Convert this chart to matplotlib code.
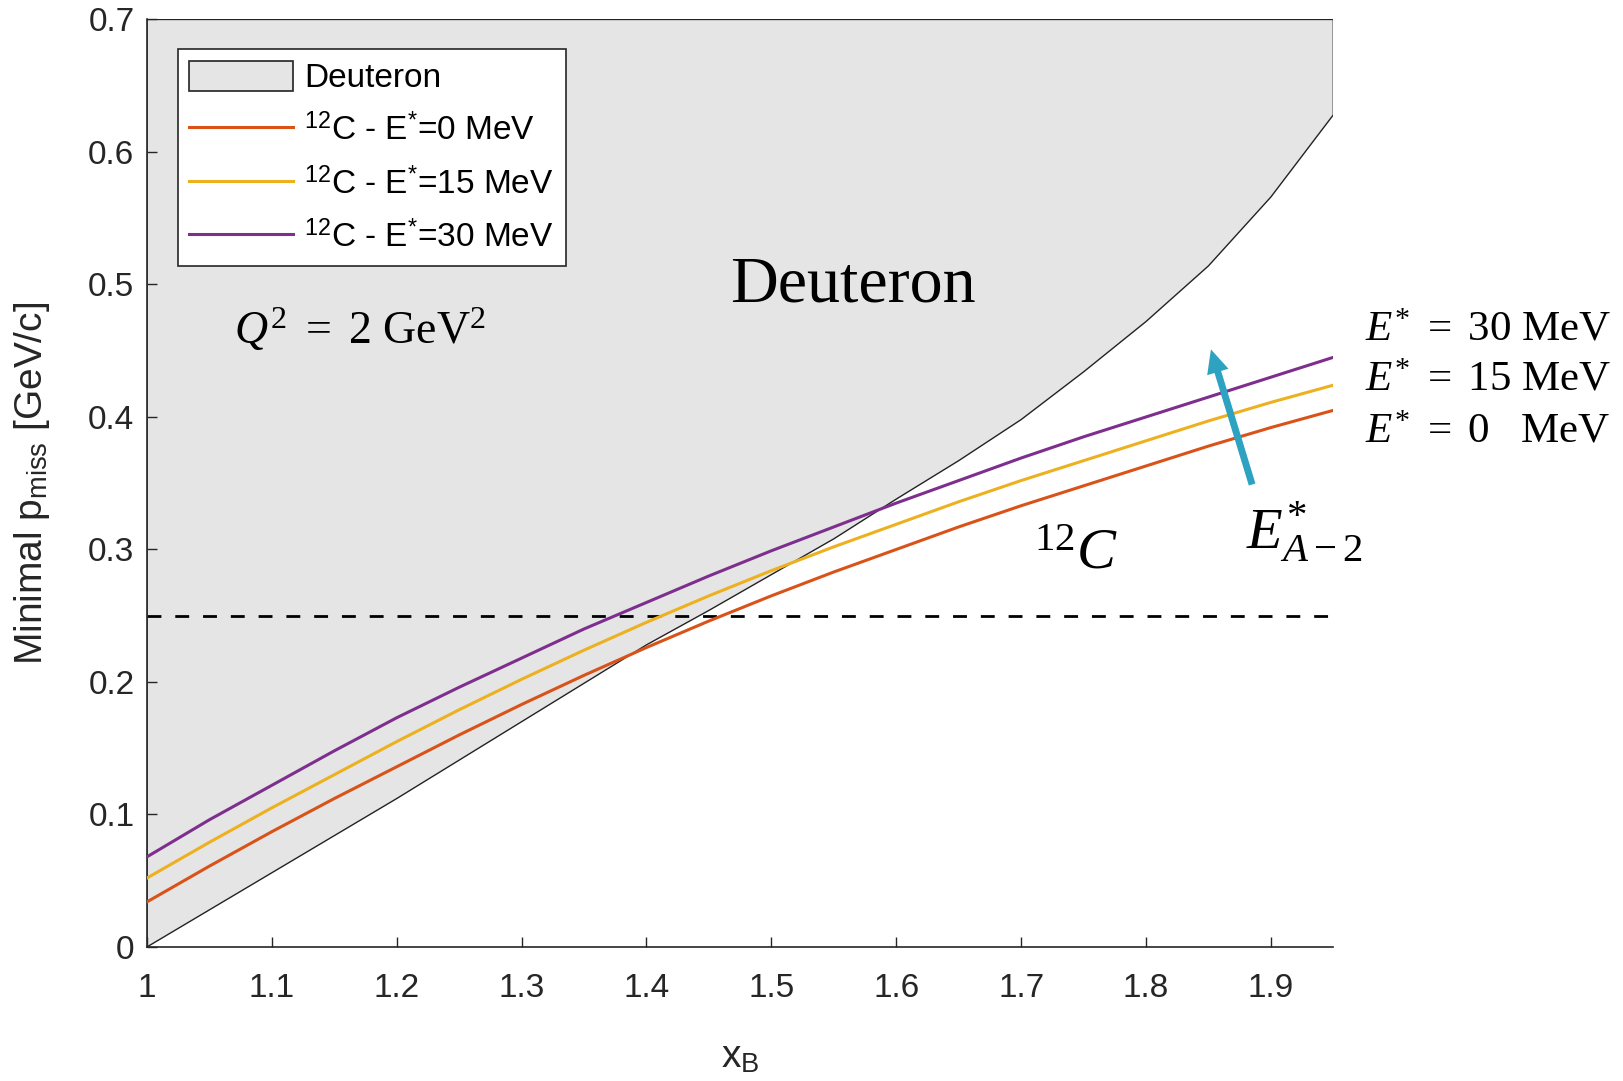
import numpy as np
import matplotlib
matplotlib.use("Agg")
import matplotlib.pyplot as plt
from matplotlib.patches import Polygon, Patch
from matplotlib.lines import Line2D

plt.rcParams["font.family"] = ["Liberation Sans", "DejaVu Sans"]
plt.rcParams["mathtext.fontset"] = "custom"
plt.rcParams["mathtext.rm"] = "Liberation Serif"
plt.rcParams["mathtext.it"] = "Liberation Serif:italic"
plt.rcParams["mathtext.bf"] = "Liberation Serif:bold"
plt.rcParams["mathtext.sf"] = "Liberation Sans"

# data
x_b = [1.00, 1.05, 1.10, 1.15, 1.20, 1.25, 1.30, 1.35, 1.40, 1.45,
       1.50, 1.55, 1.60, 1.65, 1.70, 1.75, 1.80, 1.85, 1.90, 1.95]
deuteron = [0.000, 0.028, 0.056, 0.084, 0.112, 0.141, 0.170, 0.199, 0.228, 0.254,
            0.281, 0.308, 0.338, 0.367, 0.398, 0.434, 0.472, 0.514, 0.566, 0.628]
c12_e0 = [0.034, 0.061, 0.087, 0.112, 0.136, 0.160, 0.183, 0.205, 0.226, 0.246,
          0.265, 0.283, 0.300, 0.317, 0.333, 0.348, 0.363, 0.378, 0.392, 0.405]
c12_e15 = [0.052, 0.079, 0.105, 0.130, 0.155, 0.179, 0.202, 0.224, 0.245, 0.265,
           0.284, 0.302, 0.319, 0.336, 0.352, 0.367, 0.382, 0.397, 0.411, 0.424]
c12_e30 = [0.068, 0.096, 0.122, 0.148, 0.173, 0.196, 0.218, 0.240, 0.260, 0.280,
           0.299, 0.317, 0.335, 0.352, 0.369, 0.385, 0.400, 0.415, 0.430, 0.445]
p_cut = 0.25
y_top = 0.7

x_ticks = [1.0, 1.1, 1.2, 1.3, 1.4, 1.5, 1.6, 1.7, 1.8, 1.9]
x_tick_labels = ["1", "1.1", "1.2", "1.3", "1.4", "1.5", "1.6", "1.7", "1.8", "1.9"]
y_ticks = [0, 0.1, 0.2, 0.3, 0.4, 0.5, 0.6, 0.7]
y_tick_labels = ["0", "0.1", "0.2", "0.3", "0.4", "0.5", "0.6", "0.7"]

series = [
    (c12_e0, "#D95319", r"$^{\mathsf{12}}$C - E$^{\mathsf{*}}$=0 MeV"),
    (c12_e15, "#EDB120", r"$^{\mathsf{12}}$C - E$^{\mathsf{*}}$=15 MeV"),
    (c12_e30, "#7E2F8E", r"$^{\mathsf{12}}$C - E$^{\mathsf{*}}$=30 MeV"),
]

fig = plt.figure(figsize=(16.24, 10.81), dpi=100)
ax = fig.add_axes([0.0905, 0.124, 0.7305, 0.858])

# deuteron region: above the kinematic curve
verts = list(zip(x_b, deuteron)) + [(x_b[-1], y_top), (x_b[0], y_top)]
ax.add_patch(Polygon(verts, closed=True, facecolor="#E5E5E5",
                     edgecolor="#222222", linewidth=1.0, zorder=1))

for ys, col, lab in series:
    ax.plot(x_b, ys, color=col, linewidth=2.2, zorder=3)

ax.axhline(p_cut, color="black", linewidth=2, dashes=(5, 5), zorder=2)

ax.set_xlim(1, 1.95)
ax.set_ylim(0, 0.7)
ax.set_xticks(x_ticks)
ax.set_xticklabels(x_tick_labels)
ax.set_yticks(y_ticks)
ax.set_yticklabels(y_tick_labels)
ax.tick_params(direction="in", length=7, width=1, colors="#262626", labelsize=24)
ax.tick_params(axis="x", pad=19)
ax.tick_params(axis="y", pad=9)
for s in ["top", "right"]:
    ax.spines[s].set_visible(False)
for s in ["left", "bottom"]:
    ax.spines[s].set_color("#262626")
    ax.spines[s].set_linewidth(1.2)

ax.set_xlabel(r"x$_{\mathsf{B}}$", fontsize=28, color="#262626", labelpad=25)
ax.set_ylabel(r"Minimal p$_{\mathsf{miss}}$ [GeV/c]", fontsize=28, color="#262626",
              labelpad=26)

# legend
handles = [Patch(facecolor="#E5E5E5", edgecolor="#222222", linewidth=1.2)]
handles += [Line2D([0], [0], color=c, linewidth=2.2) for _, c, _ in series]
labels = ["Deuteron"] + [lab for _, _, lab in series]
leg = ax.legend(handles, labels, loc="upper left", bbox_to_anchor=(0.026, 0.968),
                fontsize=24, handlelength=3.1, handleheight=1.0, labelspacing=0.6,
                borderpad=0.35, handletextpad=0.35, fancybox=False, framealpha=1,
                edgecolor="#262626", borderaxespad=0)
leg.get_frame().set_linewidth(1.2)

# annotations
ax.text(1.565, 0.487, "Deuteron", family="Liberation Serif", fontsize=47.5,
        ha="center", va="baseline")
ax.text(1.07, 0.455, r"$Q^2\ =\ 2\ \mathrm{GeV}^2$", fontsize=33,
        ha="left", va="baseline")
ax.text(1.71, 0.286, r"$^{12}C$", fontsize=42, ha="left", va="baseline")
ax.text(1.88, 0.30, r"$E^{*}_{A-2}$", fontsize=42, ha="left", va="baseline")

ax.annotate("", xy=(1.852, 0.451), xytext=(1.885, 0.349),
            arrowprops=dict(facecolor="#2EA3C1", edgecolor="none", width=5,
                            headwidth=16, headlength=17, shrink=0))

e_labels = [r"$E^{*}\ =\ 30\ \mathrm{MeV}$", r"$E^{*}\ =\ 15\ \mathrm{MeV}$",
            r"$E^{*}\ =\ 0\quad\mathrm{MeV}$"]
e_y = [0.458, 0.420, 0.381]
for lab, yy in zip(e_labels, e_y):
    ax.text(1.975, yy, lab, fontsize=31, ha="left", va="baseline", clip_on=False)

fig.savefig("out.png", dpi=100, facecolor="white")
